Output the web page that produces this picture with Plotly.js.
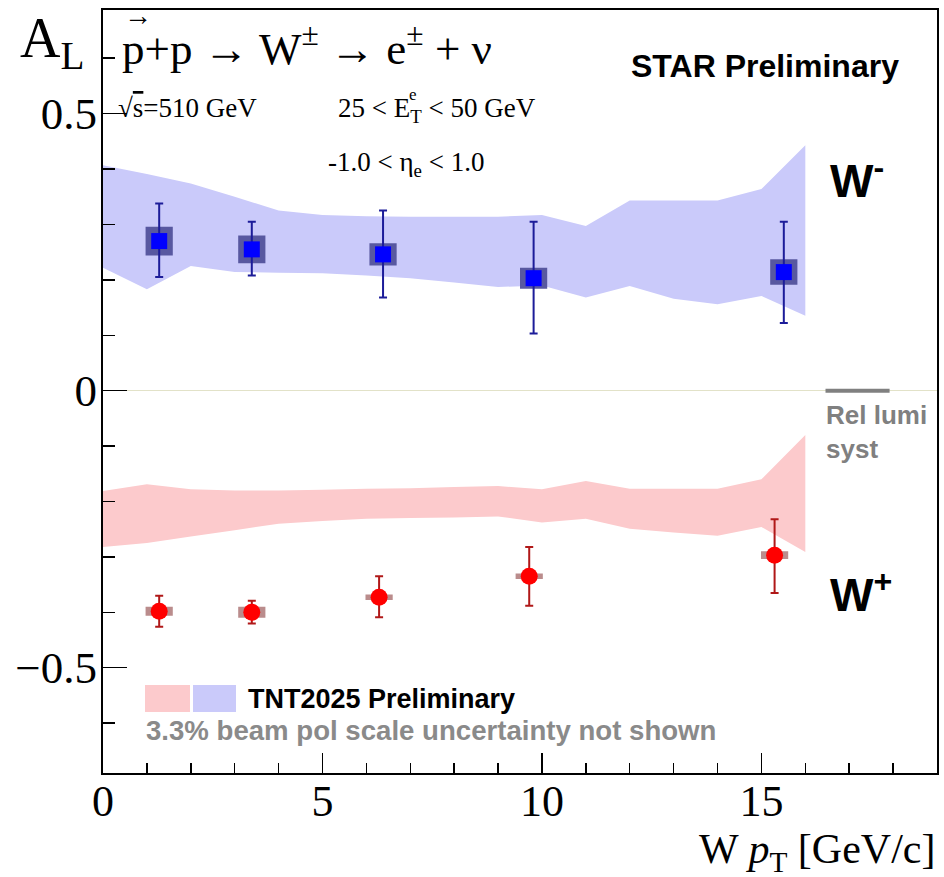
<!DOCTYPE html>
<html>
<head>
<meta charset="utf-8">
<script src="https://cdn.plot.ly/plotly-3.0.1.min.js"></script>
<style>html,body{margin:0;padding:0;background:#fff;}#chart{width:944px;height:877px;}</style>
</head>
<body>
<div id="chart"></div>
<script>
// ---- data ----
const bandX     = [0,1,2,3,4,5,6,7,8,9,10,11,12,13,14,15,16];
const wmUpper   = [0.407,0.391,0.374,0.350,0.325,0.317,0.315,0.314,0.314,0.314,0.317,0.297,0.343,0.343,0.343,0.364,0.443];
const wmLower   = [0.222,0.183,0.225,0.214,0.213,0.212,0.208,0.203,0.195,0.187,0.190,0.168,0.189,0.166,0.156,0.171,0.135];
const wpUpper   = [-0.181,-0.169,-0.178,-0.180,-0.180,-0.179,-0.177,-0.176,-0.174,-0.172,-0.178,-0.163,-0.177,-0.177,-0.177,-0.160,-0.080];
const wpLower   = [-0.282,-0.275,-0.263,-0.252,-0.240,-0.235,-0.231,-0.230,-0.229,-0.227,-0.238,-0.231,-0.249,-0.256,-0.262,-0.246,-0.291];

const wmX       = [1.28, 3.39, 6.38, 9.81, 15.51];
const wmY       = [0.270, 0.255, 0.246, 0.203, 0.214];
const wmErrUp   = [0.068, 0.050, 0.079, 0.102, 0.091];
const wmErrDn   = [0.065, 0.047, 0.078, 0.100, 0.092];
const wmSys     = [0.026, 0.025, 0.020, 0.019, 0.023];
const wmSysX    = [0.31, 0.31, 0.31, 0.31, 0.31];

const wpX       = [1.28, 3.39, 6.29, 9.71, 15.30];
const wpY       = [-0.398, -0.400, -0.373, -0.335, -0.297];
const wpErrUp   = [0.028, 0.021, 0.038, 0.053, 0.065];
const wpErrDn   = [0.028, 0.020, 0.036, 0.053, 0.068];
const wpSys     = [0.008, 0.010, 0.005, 0.005, 0.007];
const wpSysX    = [0.31, 0.31, 0.31, 0.31, 0.31];

const relLumiX  = [16.46, 17.92];
const relLumiY  = [0, 0];

const xTicks    = [0, 5, 10, 15];
const yTicks    = [-0.5, 0, 0.5];

// ---- helpers ----
function band(lo, hi) {
  return {x: bandX.concat(bandX.slice().reverse()), y: hi.concat(lo.slice().reverse())};
}
function boxes(xs, ys, dx, dy) {
  const bx = [], by = [];
  xs.forEach((x, i) => {
    bx.push(x - dx[i], x + dx[i], x + dx[i], x - dx[i], x - dx[i], null);
    by.push(ys[i] - dy[i], ys[i] - dy[i], ys[i] + dy[i], ys[i] + dy[i], ys[i] - dy[i], null);
  });
  return {x: bx, y: by};
}

const bm = band(wmLower, wmUpper);
const bp = band(wpLower, wpUpper);
const sm = boxes(wmX, wmY, wmSysX, wmSys);
const sp = boxes(wpX, wpY, wpSysX, wpSys);

const traces = [
  {x: bm.x, y: bm.y, type: 'scatter', mode: 'none', fill: 'toself', fillcolor: 'rgb(202,202,250)', hoverinfo: 'skip'},
  {x: bp.x, y: bp.y, type: 'scatter', mode: 'none', fill: 'toself', fillcolor: 'rgb(252,202,204)', hoverinfo: 'skip'},
  {x: relLumiX, y: relLumiY, type: 'scatter', mode: 'lines', line: {color: '#808080', width: 4}},
  {x: sm.x, y: sm.y, type: 'scatter', mode: 'none', fill: 'toself', fillcolor: 'rgb(88,88,160)'},
  {x: sp.x, y: sp.y, type: 'scatter', mode: 'none', fill: 'toself', fillcolor: 'rgb(186,140,140)'},
  {x: wmX, y: wmY, type: 'scatter', mode: 'markers',
   marker: {symbol: 'square', size: 16, color: '#0000ff'},
   error_y: {type: 'data', symmetric: false, array: wmErrUp, arrayminus: wmErrDn, color: '#1c1c99', thickness: 2, width: 4}},
  {x: wpX, y: wpY, type: 'scatter', mode: 'markers',
   marker: {symbol: 'circle', size: 17, color: '#ff0000'},
   error_y: {type: 'data', symmetric: false, array: wpErrUp, arrayminus: wpErrDn, color: '#b01818', thickness: 2, width: 4}}
];

const serif = 'Liberation Serif, Times New Roman, serif';
const sans = 'Liberation Sans, Arial, sans-serif';
const W = 834, H = 763, L = 103, T = 10;
const px = v => (v - L) / W;
const py = v => (T + H - v) / H;

const annotations = [
  {text: 'A<sub>L</sub>', x: px(18), y: py(42), xanchor: 'left', yanchor: 'middle', font: {family: serif, size: 56, color: '#000'}},
  {text: 'p+p \u2192 W<sup>\u00b1</sup> \u2192 e<sup>\u00b1</sup> + \u03bd', x: px(120), y: py(46), xanchor: 'left', yanchor: 'middle', font: {family: serif, size: 45, color: '#000'}},
  {text: '\u2192', x: px(122), y: py(15), xanchor: 'left', yanchor: 'middle', font: {family: serif, size: 28, color: '#000'}},
  {text: '\u221A<span style="text-decoration:overline">s</span>=510 GeV', x: px(116), y: py(108), xanchor: 'left', yanchor: 'middle', font: {family: serif, size: 27, color: '#000'}},
  {text: '25 < E<sub>T</sub> < 50 GeV', x: px(336), y: py(110), xanchor: 'left', yanchor: 'middle', font: {family: serif, size: 27, color: '#000'}},
  {text: 'e', x: px(407), y: py(94), xanchor: 'left', yanchor: 'middle', font: {family: serif, size: 17, color: '#000'}},
  {text: '-1.0 < \u03b7<sub>e</sub> < 1.0', x: px(326), y: py(164), xanchor: 'left', yanchor: 'middle', font: {family: serif, size: 27, color: '#000'}},
  {text: '<b>STAR Preliminary</b>', x: px(629), y: py(66), xanchor: 'left', yanchor: 'middle', font: {family: sans, size: 32, color: '#000'}},
  {text: '<b>W<sup>-</sup></b>', x: px(828), y: py(178), xanchor: 'left', yanchor: 'middle', font: {family: sans, size: 46, color: '#000'}},
  {text: '<b>W<sup>+</sup></b>', x: px(828), y: py(592), xanchor: 'left', yanchor: 'middle', font: {family: sans, size: 46, color: '#000'}},
  {text: '<b>Rel lumi<br>syst</b>', x: px(824), y: py(432), xanchor: 'left', yanchor: 'middle', align: 'left', font: {family: sans, size: 26, color: '#808080'}},
  {text: '<b>TNT2025 Preliminary</b>', x: px(246), y: py(699), xanchor: 'left', yanchor: 'middle', font: {family: sans, size: 27, color: '#000'}},
  {text: '<b>3.3% beam pol scale uncertainty not shown</b>', x: px(144), y: py(730), xanchor: 'left', yanchor: 'middle', font: {family: sans, size: 27.6, color: '#8a8a8a'}},
  {text: 'W <i>p</i><sub>T</sub> [GeV/c]', x: px(937), y: py(852), xanchor: 'right', yanchor: 'middle', font: {family: serif, size: 42, color: '#000'}}
].map(a => Object.assign({xref: 'paper', yref: 'paper', showarrow: false}, a));

const shapes = [
  {type: 'rect', xref: 'paper', yref: 'paper', x0: px(145), x1: px(190), y0: py(712), y1: py(685), fillcolor: 'rgb(252,202,204)', line: {width: 0}},
  {type: 'rect', xref: 'paper', yref: 'paper', x0: px(193), x1: px(236), y0: py(712), y1: py(685), fillcolor: 'rgb(202,202,250)', line: {width: 0}}
];

const layout = {
  width: 944, height: 877,
  margin: {l: L, r: 944 - L - W, t: T, b: 877 - T - H},
  paper_bgcolor: '#fff', plot_bgcolor: '#fff',
  showlegend: false,
  xaxis: {
    range: [0, 19], tickvals: xTicks, ticktext: xTicks.map(String),
    ticks: 'inside', ticklen: 20, tickwidth: 1.5, tickcolor: '#000',
    minor: {dtick: 1, ticks: 'inside', ticklen: 10, tickwidth: 1.5, tickcolor: '#000'},
    showline: true, linecolor: '#000', linewidth: 2, mirror: true,
    showgrid: false, zeroline: false, ticklabelstandoff: -12,
    tickfont: {family: serif, size: 44, color: '#000'}
  },
  yaxis: {
    range: [-0.69, 0.687], tickvals: yTicks, ticktext: ['\u22120.5', '0', '0.5'],
    ticks: 'inside', ticklen: 24, tickwidth: 1.5, tickcolor: '#000',
    minor: {dtick: 0.1, tick0: 0, ticks: 'inside', ticklen: 12, tickwidth: 1.5, tickcolor: '#000'},
    showline: true, linecolor: '#000', linewidth: 2, mirror: true,
    showgrid: false, zeroline: true, zerolinecolor: '#e2e2c8', zerolinewidth: 1.5,
    ticklabelstandoff: -5,
    tickfont: {family: serif, size: 45, color: '#000'}
  },
  annotations: annotations,
  shapes: shapes
};

Plotly.newPlot('chart', traces, layout, {displayModeBar: false, staticPlot: true});
</script>
</body>
</html>
